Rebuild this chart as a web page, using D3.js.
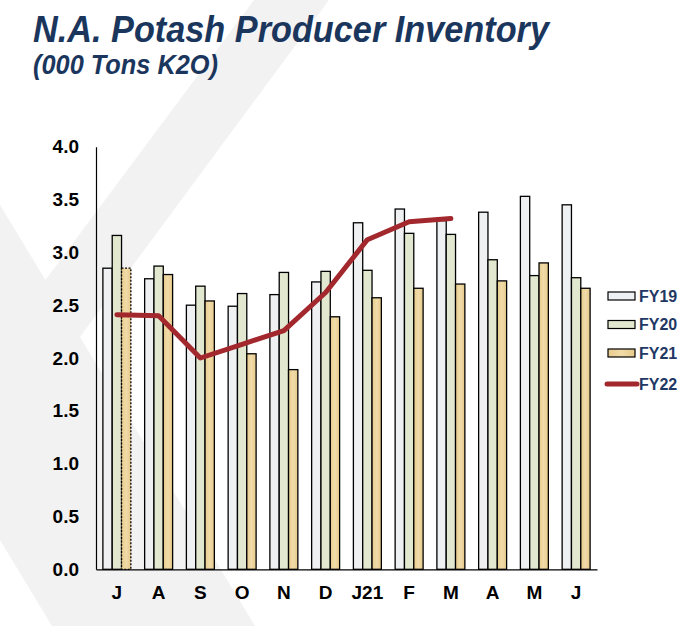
<!DOCTYPE html>
<html>
<head>
<meta charset="utf-8">
<script src="https://cdn.jsdelivr.net/npm/d3@7"></script>
<style>
  body { margin: 0; background: #fff; }
  svg { display: block; font-family: "Liberation Sans", Arial, sans-serif; }
</style>
</head>
<body>
<script>
// chart data
const months = ["J", "A", "S", "O", "N", "D", "J21", "F", "M", "A ", "M ", "J "];
const fy19 = [2.85, 2.75, 2.5, 2.49, 2.6, 2.72, 3.28, 3.41, 3.3, 3.38, 3.53, 3.45];
const fy20 = [3.16, 2.87, 2.68, 2.61, 2.81, 2.82, 2.83, 3.18, 3.17, 2.93, 2.78, 2.76];
const fy21 = [2.85, 2.79, 2.54, 2.04, 1.89, 2.39, 2.57, 2.66, 2.7, 2.73, 2.9, 2.66];
const fy22 = [2.41, 2.4, 2.0, 2.13, 2.26, 2.62, 3.12, 3.29, 3.32];
const seriesNames = ["FY19", "FY20", "FY21"];
const yTicks = [0, 0.5, 1, 1.5, 2, 2.5, 3, 3.5, 4];

const width = 692,
  height = 626;
const margin = { top: 146.7, right: 95, bottom: 56.7, left: 96 };

const svg = d3
  .select("body")
  .append("svg")
  .attr("width", width)
  .attr("height", height)
  .attr("viewBox", [0, 0, width, height]);

// fill for FY21 bars, a soft tan texture
const defs = svg.append("defs");
const grad = defs
  .append("linearGradient")
  .attr("id", "tan")
  .attr("x1", 0)
  .attr("x2", 1)
  .attr("y1", 0)
  .attr("y2", 0);
grad.append("stop").attr("offset", "0%").attr("stop-color", "#e8cc8e");
grad.append("stop").attr("offset", "50%").attr("stop-color", "#f1dba8");
grad.append("stop").attr("offset", "100%").attr("stop-color", "#e6c98b");

// light grey chevron in the background
const bg = svg.append("g").attr("fill", "#f2f2f2");
bg.append("path").attr("d", "M254,0 L329,0 L80,337 L0,452 L0,341 Z");
bg.append("path").attr("d", "M0,205 L255,626 L52,626 L0,540 Z");

// title
svg
  .append("text")
  .attr("x", 33)
  .attr("y", 42)
  .attr("textLength", 516)
  .attr("lengthAdjust", "spacingAndGlyphs")
  .attr("font-size", 37)
  .attr("font-weight", "bold")
  .attr("font-style", "italic")
  .attr("fill", "#1b365d")
  .text("N.A. Potash Producer Inventory");

svg
  .append("text")
  .attr("x", 33)
  .attr("y", 74)
  .attr("textLength", 185)
  .attr("lengthAdjust", "spacingAndGlyphs")
  .attr("font-size", 27)
  .attr("font-weight", "bold")
  .attr("font-style", "italic")
  .attr("fill", "#1b365d")
  .text("(000 Tons K2O)");

// scales
const x = d3
  .scaleBand()
  .domain(months)
  .range([margin.left, width - margin.right])
  .paddingInner(0.33)
  .paddingOuter(0.165);

const xs = d3
  .scaleBand()
  .domain(seriesNames)
  .range([0, x.bandwidth()]);

const y = d3
  .scaleLinear()
  .domain([0, 4])
  .range([height - margin.bottom, margin.top]);

const fills = { FY19: "#eef0f2", FY20: "#e1e8cf", FY21: "url(#tan)" };
const values = { FY19: fy19, FY20: fy20, FY21: fy21 };

// bars
const groups = svg
  .append("g")
  .selectAll("g")
  .data(months)
  .join("g")
  .attr("transform", (d) => `translate(${x(d)},0)`);

groups
  .selectAll("rect")
  .data((m, i) => seriesNames.map((s) => ({ s, i, v: values[s][i] })))
  .join("rect")
  .attr("x", (d) => xs(d.s))
  .attr("y", (d) => y(d.v))
  .attr("width", xs.bandwidth())
  .attr("height", (d) => y(0) - y(d.v))
  .attr("fill", (d) => fills[d.s])
  .attr("stroke", "#000")
  .attr("stroke-width", 1.3)
  // first FY21 bar is drawn with a dotted outline (estimate)
  .attr("stroke-dasharray", (d) => (d.s === "FY21" && d.i === 0 ? "2,1.5" : null));

// FY22 line
const line = d3
  .line()
  .x((d, i) => x(months[i]) + x.bandwidth() / 2)
  .y((d) => y(d));

svg
  .append("path")
  .datum(fy22)
  .attr("d", line)
  .attr("fill", "none")
  .attr("stroke", "#a2282e")
  .attr("stroke-width", 5)
  .attr("stroke-linecap", "round")
  .attr("stroke-linejoin", "round");

// axes
const yAxis = svg
  .append("g")
  .attr("transform", `translate(${margin.left},0)`)
  .call(
    d3
      .axisLeft(y)
      .tickValues(yTicks)
      .tickSize(0)
      .tickPadding(17)
      .tickFormat(d3.format(".1f"))
  );
yAxis.select(".domain").attr("stroke", "#000").attr("stroke-width", 1.2);
yAxis
  .selectAll("text")
  .attr("font-family", "Liberation Sans, Arial, sans-serif")
  .attr("font-size", 19)
  .attr("font-weight", "bold")
  .attr("fill", "#000");

const xAxis = svg
  .append("g")
  .attr("transform", `translate(0,${y(0)})`)
  .call(d3.axisBottom(x).tickSize(0).tickPadding(16));
xAxis.select(".domain").attr("stroke", "#000").attr("stroke-width", 1.2);
xAxis
  .selectAll("text")
  .attr("font-family", "Liberation Sans, Arial, sans-serif")
  .attr("font-size", 19)
  .attr("font-weight", "bold")
  .attr("fill", "#000")
  .text((d) => d.trim());

// legend
const legendY = [296, 324.5, 353, 384];
const legend = svg
  .append("g")
  .selectAll("g")
  .data(["FY19", "FY20", "FY21", "FY22"])
  .join("g")
  .attr("transform", (d, i) => `translate(0,${legendY[i]})`);

legend
  .filter((d) => d !== "FY22")
  .append("rect")
  .attr("x", 608)
  .attr("y", -4)
  .attr("width", 27)
  .attr("height", 8)
  .attr("fill", (d) => fills[d])
  .attr("stroke", "#000")
  .attr("stroke-width", 1.2);

legend
  .filter((d) => d === "FY22")
  .append("line")
  .attr("x1", 607)
  .attr("x2", 637)
  .attr("stroke", "#a2282e")
  .attr("stroke-width", 5)
  .attr("stroke-linecap", "round");

legend
  .append("text")
  .attr("x", 639)
  .attr("dy", "0.36em")
  .attr("font-size", 16)
  .attr("font-weight", "bold")
  .attr("fill", "#1f3864")
  .text((d) => d);
</script>
</body>
</html>
